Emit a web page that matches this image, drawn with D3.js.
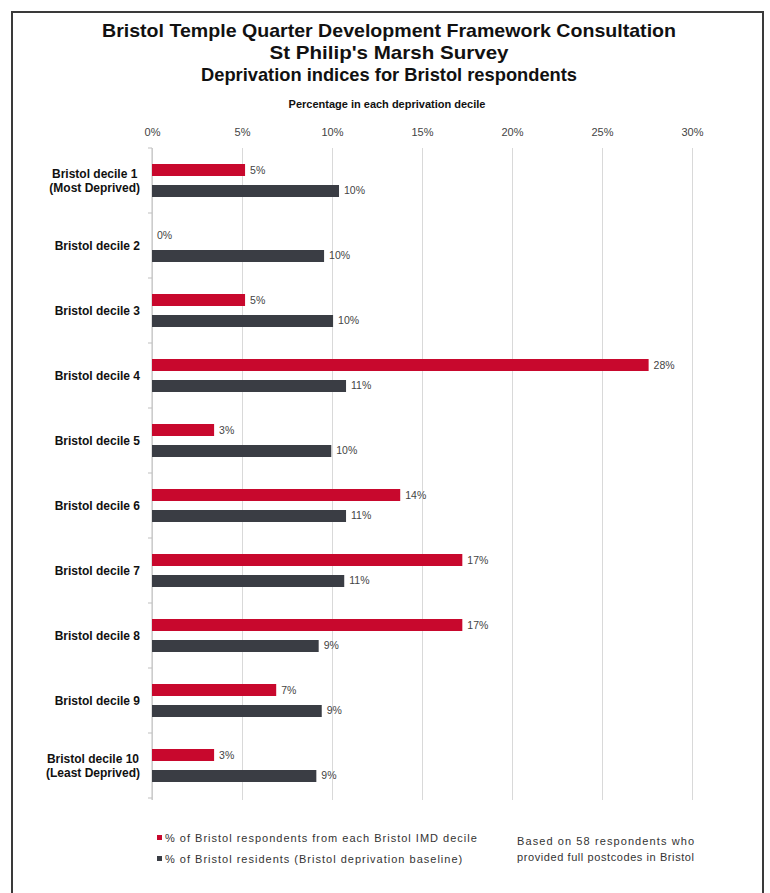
<!DOCTYPE html>
<html>
<head>
<meta charset="utf-8">
<script src="https://cdn.jsdelivr.net/npm/d3@7"></script>
<style>
  html, body { margin: 0; padding: 0; background: #fff; }
  svg { display: block; font-family: "Liberation Sans", Arial, sans-serif; }
</style>
</head>
<body>
<svg id="chart" width="770" height="893"></svg>
<script>
// Bristol IMD deciles (1 = most deprived, 10 = least deprived)
const categories = [
  ["Bristol decile 1", "(Most Deprived)"],
  ["Bristol decile 2"],
  ["Bristol decile 3"],
  ["Bristol decile 4"],
  ["Bristol decile 5"],
  ["Bristol decile 6"],
  ["Bristol decile 7"],
  ["Bristol decile 8"],
  ["Bristol decile 9"],
  ["Bristol decile 10", "(Least Deprived)"]
];
// % of the 58 Bristol respondents falling in each decile
const respondents = [5.17, 0, 5.17, 27.59, 3.45, 13.79, 17.24, 17.24, 6.90, 3.45];
// % of Bristol residents in each decile (baseline)
const residents = [10.39, 9.56, 10.06, 10.78, 9.96, 10.78, 10.68, 9.26, 9.43, 9.13];
const xTicks = [0, 5, 10, 15, 20, 25, 30];
const seriesNames = [
  "% of Bristol respondents from each Bristol IMD decile",
  "% of Bristol residents (Bristol deprivation baseline)"
];
const titleLines = [
  "Bristol Temple Quarter Development Framework Consultation",
  "St Philip's Marsh Survey",
  "Deprivation indices for Bristol respondents"
];
const axisTitle = "Percentage in each deprivation decile";
const noteLines = ["Based on 58 respondents who", "provided full postcodes in Bristol"];

const colors = ["#c8082d", "#3a3d44"];
// rendered widths of the condensed title lines
const titleWidths = [574, 239, 376];

const svg = d3.select("#chart");

// frame
svg.append("rect")
  .attr("x", 12).attr("y", 12).attr("width", 751).attr("height", 900)
  .attr("fill", "none").attr("stroke", "#3a3a3a").attr("stroke-width", 2);

// titles
svg.append("g").selectAll("text").data(titleLines).join("text")
  .attr("x", 389).attr("y", (d, i) => 37 + i * 22)
  .attr("text-anchor", "middle")
  .attr("font-size", 19).attr("font-weight", "bold").attr("fill", "#111")
  .attr("textLength", (d, i) => titleWidths[i])
  .attr("lengthAdjust", "spacingAndGlyphs")
  .text(d => d);

svg.append("text")
  .attr("x", 387).attr("y", 108)
  .attr("text-anchor", "middle")
  .attr("font-size", 11).attr("font-weight", "bold").attr("fill", "#111")
  .text(axisTitle);

const plotLeft = 152, plotRight = 692, plotTop = 148, plotBottom = 798;

const x = d3.scaleLinear().domain([0, 30]).range([plotLeft, plotRight]);
const y = d3.scaleBand().domain(d3.range(categories.length)).range([plotTop, plotBottom]);
const inner = d3.scaleBand().domain([0, 1]).range([0, y.bandwidth()])
  .paddingInner(0.4286).paddingOuter(0.762);

// gridlines + tick labels
const xAxis = svg.append("g")
  .attr("transform", `translate(0,${plotTop})`)
  .call(d3.axisTop(x).tickValues(xTicks).tickFormat(d => d + "%")
    .tickSize(-(plotBottom - plotTop + 2)).tickPadding(12));
xAxis.select(".domain").remove();
xAxis.selectAll(".tick line").attr("stroke", "#d9d9d9").attr("stroke-width", 1);
xAxis.selectAll(".tick text")
  .attr("font-size", 11).attr("fill", "#444")
  .attr("font-family", "Liberation Sans, Arial, sans-serif");

// category axis line with boundary ticks
const yAxisG = svg.append("g");
yAxisG.append("line")
  .attr("x1", plotLeft).attr("x2", plotLeft).attr("y1", plotTop).attr("y2", plotBottom + 2)
  .attr("stroke", "#bfbfbf");
yAxisG.selectAll("line.b").data(d3.range(categories.length + 1)).join("line")
  .attr("class", "b")
  .attr("x1", plotLeft - 4).attr("x2", plotLeft)
  .attr("y1", i => plotTop + i * y.step()).attr("y2", i => plotTop + i * y.step())
  .attr("stroke", "#bfbfbf");

// category labels
const labelG = svg.append("g");
categories.forEach((lines, i) => {
  const cy = y(i) + y.bandwidth() / 2;
  const t = labelG.append("text")
    .attr("font-size", 12).attr("font-weight", "bold").attr("fill", "#111")
    .attr("text-anchor", "middle");
  lines.forEach((ln, k) => {
    t.append("tspan")
      .attr("x", 0)
      .attr("y", cy + 4.5 + (k - (lines.length - 1) / 2) * 14)
      .text(ln);
  });
  const w = d3.max(t.selectAll("tspan").nodes(), n => n.getComputedTextLength());
  t.selectAll("tspan").attr("x", 140 - w / 2);
});

// bars
const series = [respondents, residents];
const fmt = v => d3.format(".0f")(v) + "%";
series.forEach((vals, s) => {
  const g = svg.append("g");
  g.selectAll("rect").data(vals).join("rect")
    .attr("x", x(0))
    .attr("y", (d, i) => y(i) + inner(s))
    .attr("width", d => x(d) - x(0))
    .attr("height", inner.bandwidth())
    .attr("fill", colors[s]);
  g.selectAll("text").data(vals).join("text")
    .attr("x", d => x(d) + 5)
    .attr("y", (d, i) => y(i) + inner(s) + inner.bandwidth() / 2 + 3.5)
    .attr("font-size", 10.5).attr("fill", "#444")
    .text(d => fmt(d));
});

// legend
const legend = svg.append("g");
seriesNames.forEach((name, s) => {
  const ly = 842 + s * 21;
  legend.append("rect")
    .attr("x", 157).attr("y", ly - 7).attr("width", 5).attr("height", 5)
    .attr("fill", colors[s]);
  legend.append("text")
    .attr("x", 165).attr("y", ly)
    .attr("font-size", 11).attr("letter-spacing", 1).attr("fill", "#333")
    .text(name);
});

// note, both lines set to the same justified width
svg.append("g").selectAll("text").data(noteLines).join("text")
  .attr("x", 517).attr("y", (d, i) => 845 + i * 16)
  .attr("font-size", 11).attr("fill", "#333")
  .attr("textLength", 177).attr("lengthAdjust", "spacing")
  .text(d => d);
</script>
</body>
</html>
